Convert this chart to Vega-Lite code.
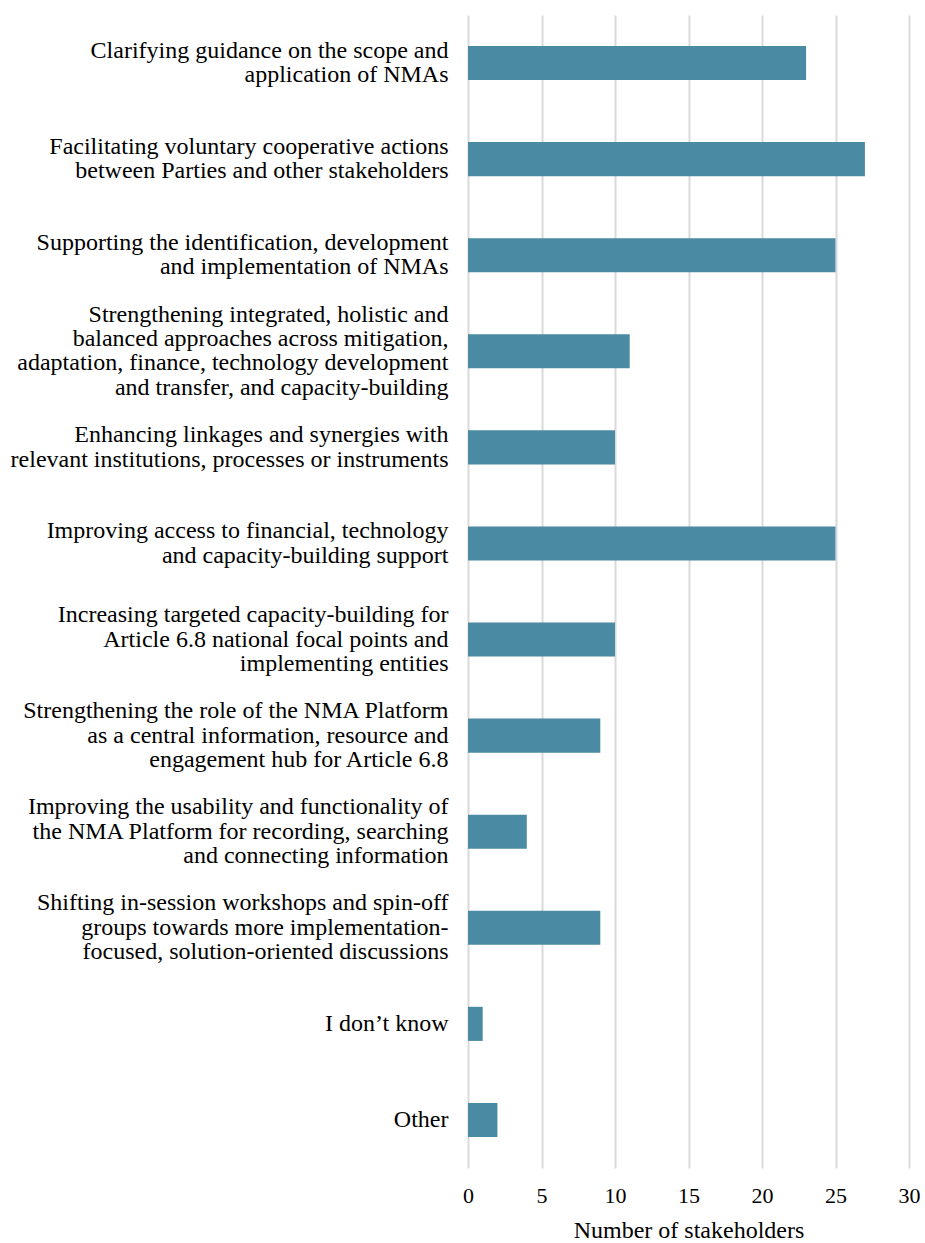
{
  "$schema": "https://vega.github.io/schema/vega-lite/v6.json",
  "width": 441,
  "height": 1153,
  "autosize": {"type": "none"},
  "padding": {"left": 468, "top": 15, "right": 16, "bottom": 75},
  "background": "white",
  "config": {
    "view": {"stroke": null},
    "font": "Liberation Serif"
  },
  "data": {
    "values": [
      {"label": "Clarifying guidance on the scope and|application of NMAs", "value": 23},
      {"label": "Facilitating voluntary cooperative actions|between Parties and other stakeholders", "value": 27},
      {"label": "Supporting the identification, development|and implementation of NMAs", "value": 25},
      {"label": "Strengthening integrated, holistic and|balanced approaches across mitigation,|adaptation, finance, technology development|and transfer, and capacity-building", "value": 11},
      {"label": "Enhancing linkages and synergies with|relevant institutions, processes or instruments", "value": 10},
      {"label": "Improving access to financial, technology|and capacity-building support", "value": 25},
      {"label": "Increasing targeted capacity-building for|Article 6.8 national focal points and|implementing entities", "value": 10},
      {"label": "Strengthening the role of the NMA Platform|as a central information, resource and|engagement hub for Article 6.8", "value": 9},
      {"label": "Improving the usability and functionality of|the NMA Platform for recording, searching|and connecting information", "value": 4},
      {"label": "Shifting in-session workshops and spin-off|groups towards more implementation-|focused, solution-oriented discussions", "value": 9},
      {"label": "I don’t know", "value": 1},
      {"label": "Other", "value": 2}
    ]
  },
  "mark": {"type": "bar", "color": "#4a8aa2"},
  "encoding": {
    "y": {
      "field": "label",
      "type": "nominal",
      "sort": null,
      "scale": {"paddingInner": 0.645, "paddingOuter": 0.3225},
      "axis": {
        "title": null,
        "labelExpr": "split(datum.label, '|')",
        "labelFont": "Liberation Serif",
        "labelFontSize": 24,
        "labelLineHeight": 24.4,
        "labelColor": "#000000",
        "labelPadding": 20,
        "labelLimit": 0,
        "labelOffset": {
          "condition": [
            {"test": "length(split(datum.value, '|')) == 4", "value": -36.6},
            {"test": "length(split(datum.value, '|')) == 3", "value": -24.4},
            {"test": "length(split(datum.value, '|')) == 2", "value": -12.2}
          ],
          "value": 0
        },
        "ticks": false,
        "domain": false,
        "grid": false
      }
    },
    "x": {
      "field": "value",
      "type": "quantitative",
      "scale": {"domain": [0, 30], "nice": false},
      "axis": {
        "title": "Number of stakeholders",
        "titleFont": "Liberation Serif",
        "titleFontSize": 24,
        "titleFontWeight": "normal",
        "titleColor": "#000000",
        "titlePadding": 12,
        "values": [0, 5, 10, 15, 20, 25, 30],
        "labelFont": "Liberation Serif",
        "labelFontSize": 22,
        "labelColor": "#000000",
        "labelPadding": 17,
        "labelFlush": false,
        "ticks": false,
        "domain": false,
        "grid": true,
        "gridColor": "#d9d9d9",
        "gridWidth": 2
      }
    }
  }
}
